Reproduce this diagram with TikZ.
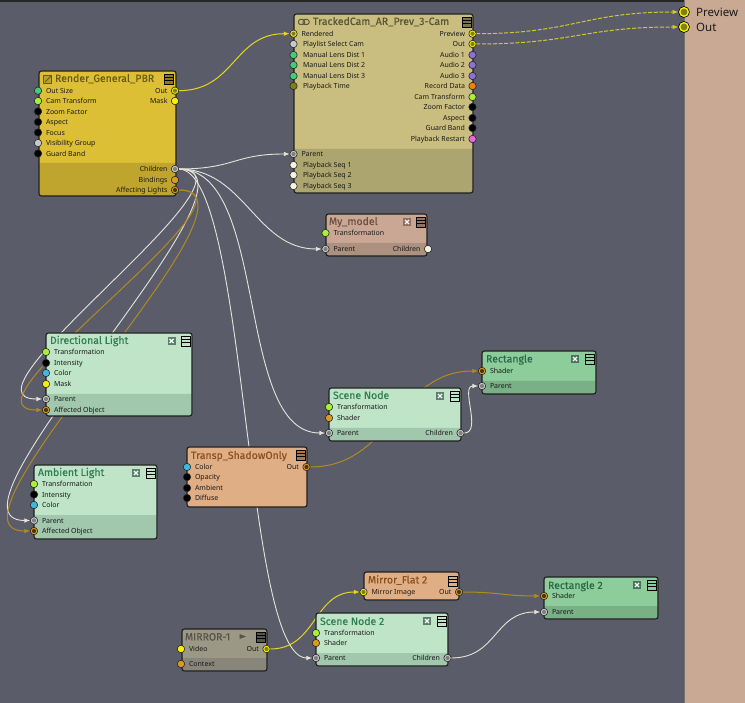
\documentclass[tikz,border=0pt]{standalone}
\usepackage{fontspec}
\setmainfont{Noto Sans}
\newfontfamily\ttlfont[FakeBold=0.35]{Fira Sans}
\usetikzlibrary{arrows.meta}
\pgfdeclarelayer{bg}
\pgfsetlayers{bg,main}
\definecolor{canvas}{HTML}{5B5C69}
\definecolor{panel}{HTML}{C9A993}
\definecolor{wire}{HTML}{E6E4DA}
\definecolor{ywire}{HTML}{E2D61E}
\definecolor{bwire}{HTML}{B08A22}
\definecolor{pgreen}{HTML}{44CC77}
\definecolor{plime}{HTML}{AAF033}
\definecolor{pgrey}{HTML}{C8C8C8}
\definecolor{pyel}{HTML}{F5F000}
\definecolor{pamb}{HTML}{D89A20}
\definecolor{pblue}{HTML}{3FB8E0}
\definecolor{ppur}{HTML}{8A70D8}
\definecolor{porg}{HTML}{F08010}
\definecolor{ppink}{HTML}{E868E0}
\definecolor{pcream}{HTML}{F4F2E0}
\definecolor{polive}{HTML}{7E8010}
\definecolor{rendF}{HTML}{DCBF35}\definecolor{rendB}{HTML}{BFA52E}\definecolor{rendT}{HTML}{6B5A12}
\definecolor{camF}{HTML}{C9BE7F}\definecolor{camB}{HTML}{ACA56F}\definecolor{camT}{HTML}{5A5638}
\definecolor{modF}{HTML}{C9A794}\definecolor{modB}{HTML}{AC9080}\definecolor{modT}{HTML}{6E4F40}
\definecolor{lgtF}{HTML}{BFE4C8}\definecolor{lgtB}{HTML}{A1C7AC}\definecolor{lgtT}{HTML}{2F7F55}
\definecolor{recF}{HTML}{8CCD9B}\definecolor{recB}{HTML}{7AB086}\definecolor{recT}{HTML}{2A6A48}
\definecolor{shdF}{HTML}{DFAE84}\definecolor{shdT}{HTML}{8B4F20}
\definecolor{mirF}{HTML}{9B9886}\definecolor{mirB}{HTML}{88857A}\definecolor{mirT}{HTML}{55534A}
\tikzset{
  x=1pt,y=-1pt,
  boxline/.style={draw=black!88,line width=1.1pt,rounded corners=2.5pt},
  pinlabel/.style={inner sep=0pt,outer sep=0pt,yshift=-.8pt,text=black!90,font=\fontsize{7}{8}\selectfont,text height=5pt,text depth=1.5pt},
  titlelabel/.style={inner sep=0pt,outer sep=0pt,yshift=-1.2pt,anchor=west,font=\ttlfont\fontsize{10.5}{12}\selectfont,text height=7.5pt,text depth=2pt},
  pinball/.style={circle,draw=black!85,line width=.6pt,minimum size=7.4pt,inner sep=0pt,outer sep=0pt},
  whitewire/.style={draw=wire,line width=.9pt,-{Latex[length=6pt,width=4.6pt]}},
  yellowwire/.style={draw=ywire,line width=1pt,-{Latex[length=6pt,width=4.6pt]}},
  brownwire/.style={draw=bwire,line width=1pt,-{Latex[length=6pt,width=4.6pt]}},
  dashwire/.style={draw=ywire!85!gray,line width=1pt,dash pattern=on 4pt off 1.6pt,-{Latex[length=6pt,width=4.6pt]}},
  outball/.style={circle,draw=black,fill=pyel,line width=.6pt,minimum size=11pt,inner sep=0pt,outer sep=0pt,
    path picture={\fill[polive] (path picture bounding box.center) circle (3.4pt);}},
  outlabel/.style={inner sep=0pt,yshift=-1.5pt,anchor=west,text=black!90,font=\fontsize{11.5}{13}\selectfont,text height=8pt,text depth=2pt},
}
\newcommand\lpo{8}
% name x0 y0 x1 y1 bandY palette
\newcommand\nbox[7]{%
  \node[fill=#7F,inner sep=0pt,outer sep=0pt,rounded corners=2.5pt,anchor=north west,minimum width={(#4-#2)*1pt},minimum height={(#5-#3)*1pt}] (#1) at (#2,#3) {};
  \fill[#7B] (#2,#6) -- (#4,#6) [rounded corners=2.5pt] -- (#4,#5) -- (#2,#5) [sharp corners] -- cycle;
  \draw[boxline] (#2,#3) rectangle (#4,#5);
}
\newcommand\nboxplain[6]{%
  \node[fill=#6F,inner sep=0pt,outer sep=0pt,rounded corners=2.5pt,anchor=north west,minimum width={(#4-#2)*1pt},minimum height={(#5-#3)*1pt}] (#1) at (#2,#3) {};
  \draw[boxline] (#2,#3) rectangle (#4,#5);
}
% [inner] name x y colour label
\newcommand\lpin[6][none]{%
  \node[pinball,fill=#5,path picture={\path[fill=#1] (path picture bounding box.center) circle (2.1pt);}] (#2) at (#3,#4) {};
  \node[pinlabel,anchor=west] (#2-t) at (#3+\lpo,#4) {#6};
}
\newcommand\rpin[6][none]{%
  \node[pinball,fill=#5,path picture={\path[fill=#1] (path picture bounding box.center) circle (2.1pt);}] (#2) at (#3,#4) {};
  \node[pinlabel,anchor=east] (#2-t) at (#3-7.5,#4) {#6};
}
\newcommand\menuicon[3]{% x y(top) tint
  \draw[black,line width=.9pt,fill=#3] (#1,#2) rectangle (#1+9,#2+10);
  \draw[black,line width=.9pt] (#1,#2+3.3) -- (#1+9,#2+3.3) (#1,#2+6.6) -- (#1+9,#2+6.6);
}
\newcommand\xicon[3]{% x y(top) colour
  \fill[#3] (#1,#2) rectangle (#1+8,#2+8);
  \draw[white,line width=1.1pt] (#1+2,#2+2) -- (#1+6,#2+6) (#1+6,#2+2) -- (#1+2,#2+6);
}
\newcommand\conn[4]{\draw[#1] (#2) .. controls +(#4,0) and +(-#4,0) .. (#3);}
\begin{document}
\begin{tikzpicture}
\path[use as bounding box] (0,0) rectangle (745,703);
\begin{pgfonlayer}{bg}
\fill[canvas] (0,0) rectangle (745,703);
\fill[black!85] (0,0) rectangle (685,1.6);
\fill[panel] (685,0) rectangle (745,703);
\fill[black!55] (684.2,0) rectangle (685.2,703);
\end{pgfonlayer}

% Render_General_PBR
\nbox{rend}{39}{71}{176}{196}{163}{rend}
\node[titlelabel,text=rendT] (rend-n) at (55,78) {Render\_General\_PBR};
\draw[rendT,line width=.8pt,fill=rendF!70!rendT] (43,75) rectangle (51,83);
\draw[rendT,line width=1pt] (45,82) -- (51,76);
\menuicon{164}{74}{rendT!70!rendF}
\lpin{r-size}{38}{90.7}{pgreen}{Out Size}
\lpin{r-cam}{38}{101}{plime}{Cam Transform}
\lpin{r-zoom}{38}{111.5}{black}{Zoom Factor}
\lpin{r-asp}{38}{122}{black}{Aspect}
\lpin{r-foc}{38}{132.5}{black}{Focus}
\lpin{r-vis}{38}{143}{pgrey}{Visibility Group}
\lpin{r-gb}{38}{153.5}{black}{Guard Band}
\rpin[polive]{r-out}{175}{90.7}{pyel}{Out}
\rpin{r-mask}{175}{101}{pyel}{Mask}
\rpin[gray]{r-child}{175}{169}{pgrey}{Children}
\rpin{r-bind}{175}{180}{pamb}{Bindings}
\rpin[black!65!pamb]{r-aff}{175}{190}{pamb}{Affecting Lights}

% TrackedCam
\nbox{cam}{294}{14}{473}{193}{149}{cam}
\node[titlelabel,text=camT] (cam-n) at (313,21) {TrackedCam\_AR\_Prev\_3-Cam};
\draw[camT,line width=1pt,rounded corners=1.5pt] (298.5,19.5) rectangle (304.5,24.5) (303,19.5) rectangle (309,24.5);
\menuicon{462}{17}{camT!70!camF}
\lpin[polive]{c-rend}{293.5}{33.7}{pyel}{Rendered}
\renewcommand\lpo{9.5}
\lpin{c-play}{293.5}{44}{pgrey}{Playlist Select Cam}
\lpin{c-m1}{293.5}{55}{pgreen}{Manual Lens Dist 1}
\lpin{c-m2}{293.5}{65}{pgreen}{Manual Lens Dist 2}
\lpin{c-m3}{293.5}{76}{pgreen}{Manual Lens Dist 3}
\lpin{c-pt}{293.5}{86}{polive}{Playback Time}
\renewcommand\lpo{8}
\lpin[gray]{c-par}{293.5}{154}{pgrey}{Parent}
\renewcommand\lpo{9.5}
\lpin{c-s1}{293.5}{165}{pcream}{Playback Seq 1}
\lpin{c-s2}{293.5}{175}{pcream}{Playback Seq 2}
\lpin{c-s3}{293.5}{186}{pcream}{Playback Seq 3}
\renewcommand\lpo{8}
\rpin[polive]{c-prev}{472.5}{33.7}{pyel}{Preview}
\rpin[polive]{c-out}{472.5}{44}{pyel}{Out}
\rpin{c-a1}{472.5}{55}{ppur}{Audio 1}
\rpin{c-a2}{472.5}{65}{ppur}{Audio 2}
\rpin{c-a3}{472.5}{76}{ppur}{Audio 3}
\rpin{c-rec}{472.5}{86}{porg}{Record Data}
\rpin{c-ct}{472.5}{97}{plime}{Cam Transform}
\rpin{c-zf}{472.5}{107}{black}{Zoom Factor}
\rpin{c-as}{472.5}{118}{black}{Aspect}
\rpin{c-gb}{472.5}{128}{black}{Guard Band}
\rpin{c-pr}{472.5}{139}{ppink}{Playback Restart}

% My_model
\nbox{mod}{326}{214}{427}{256}{243}{mod}
\node[titlelabel,text=modT] (mod-n) at (329,221) {My\_model};
\xicon{403}{218}{modT!65!modF}
\menuicon{416}{217}{modT!60!modF}
\lpin{m-tr}{325.5}{233}{plime}{Transformation}
\lpin[gray]{m-par}{325.5}{249}{pgrey}{Parent}
\rpin{m-ch}{428}{249}{pcream}{Children}

% Directional Light
\nbox{dir}{46}{333}{192}{416}{394}{lgt}
\node[titlelabel,text=lgtT] (dir-n) at (50,340) {Directional Light};
\xicon{167.5}{337}{lgtT!45!gray}
\menuicon{181.5}{336}{lgtF}
\lpin{d-tr}{46}{352}{plime}{Transformation}
\lpin{d-in}{46}{363}{black}{Intensity}
\lpin{d-co}{46}{373}{pblue}{Color}
\lpin{d-ma}{46}{384}{pyel}{Mask}
\lpin[gray]{d-par}{46}{399}{pgrey}{Parent}
\lpin[black!65!pamb]{d-aff}{46}{410}{pamb}{Affected Object}

% Ambient Light
\nbox{amb}{34}{465}{157}{539}{515}{lgt}
\node[titlelabel,text=lgtT] (amb-n) at (38,472) {Ambient Light};
\xicon{132}{469}{lgtT!45!gray}
\menuicon{146.5}{468}{lgtF}
\lpin{a-tr}{34}{484}{plime}{Transformation}
\lpin{a-in}{34}{494.5}{black}{Intensity}
\lpin{a-co}{34}{505}{pblue}{Color}
\lpin[gray]{a-par}{34}{520.5}{pgrey}{Parent}
\lpin[black!65!pamb]{a-aff}{34}{531}{pamb}{Affected Object}

% Scene Node
\nbox{sn}{329}{388}{461}{441}{428}{lgt}
\node[titlelabel,text=lgtT] (sn-n) at (333,395) {Scene Node};
\xicon{436}{392}{lgtT!45!gray}
\menuicon{450.5}{391}{lgtF}
\lpin{s-tr}{329}{407}{plime}{Transformation}
\lpin{s-sh}{329}{418}{pamb}{Shader}
\lpin[gray]{s-par}{329}{433}{pgrey}{Parent}
\rpin[gray]{s-ch}{460.5}{433}{pgrey}{Children}

% Rectangle
\nbox{rec}{482}{351}{596}{394}{381}{rec}
\node[titlelabel,text=recT] (rec-n) at (486,358.5) {Rectangle};
\xicon{571}{355}{recT!60!gray}
\menuicon{585.5}{354}{recF}
\lpin[black!65!pamb]{q-sh}{482}{371}{pamb}{Shader}
\lpin[gray]{q-par}{482}{386}{pgrey}{Parent}

% Transp_ShadowOnly
\nboxplain{shd}{187}{447}{307}{507}{shd}
\node[titlelabel,text=shdT] (shd-n) at (191,455) {Transp\_ShadowOnly};
\menuicon{296.5}{450}{shdT!60!shdF}
\lpin{t-co}{187}{467}{pblue}{Color}
\lpin{t-op}{187}{477}{black}{Opacity}
\lpin{t-am}{187}{488}{black}{Ambient}
\lpin{t-di}{187}{498}{black}{Diffuse}
\rpin[black!65!pamb]{t-out}{306.5}{467}{pamb}{Out}

% Mirror_Flat 2
\nboxplain{flat}{364}{572}{459}{600}{shd}
\node[titlelabel,text=shdT] (flat-n) at (368,579.5) {Mirror\_Flat 2};
\menuicon{448}{576}{shdF}
\lpin[polive]{f-im}{363.5}{592}{pyel}{Mirror Image}
\rpin[black!65!pamb]{f-out}{459}{592}{pamb}{Out}

% Rectangle 2
\nbox{rct}{544}{577}{658}{619}{606}{rec}
\node[titlelabel,text=recT] (rct-n) at (548,585) {Rectangle 2};
\xicon{633}{581}{recT!60!gray}
\menuicon{647.5}{580}{recF}
\lpin[black!65!pamb]{w-sh}{544}{596}{pamb}{Shader}
\lpin[gray]{w-par}{544}{612}{pgrey}{Parent}

% Scene Node 2
\nbox{sm}{316}{613}{448}{666}{653}{lgt}
\node[titlelabel,text=lgtT] (sm-n) at (320,621) {Scene Node 2};
\xicon{423}{617}{lgtT!45!gray}
\menuicon{437.5}{616}{lgtF}
\lpin{n-tr}{316}{633}{plime}{Transformation}
\lpin{n-sh}{316}{643}{pamb}{Shader}
\lpin[gray]{n-par}{316}{658}{pgrey}{Parent}
\rpin[gray]{n-ch}{447.5}{658}{pgrey}{Children}

% MIRROR-1
\nbox{mir}{182}{629}{267}{671}{658}{mir}
\node[titlelabel,text=mirT] (mir-n) at (185,636.5) {MIRROR-1};
\fill[mirT] (239.5,634) -- (246,636.5) -- (239.5,639) -- cycle;
\menuicon{256}{632}{mirT}
\lpin{i-vi}{181}{649}{pyel}{Video}
\lpin{i-co}{181}{664}{pamb}{Context}
\rpin[polive]{i-out}{266.5}{649}{pyel}{Out}

% Output panel ports
\node[outball] (o-prev) at (684,12) {};
\node[outball] (o-out) at (684,27) {};
\node[outlabel] (o-prev-t) at (696,12) {Preview};
\node[outlabel] (o-out-t) at (696,27) {Out};

\begin{pgfonlayer}{bg}
\conn{yellowwire}{r-out}{c-rend}{60}
\conn{dashwire}{c-prev}{o-prev}{100}
\conn{dashwire}{c-out}{o-out}{100}
\conn{whitewire}{r-child}{c-par}{60}
\conn{whitewire}{r-child}{m-par}{70}
\conn{whitewire}{r-child}{d-par}{98}
\conn{whitewire}{r-child}{a-par}{108}
\conn{whitewire}{r-child}{s-par}{95}
\conn{whitewire}{r-child}{n-par}{73}
\conn{brownwire}{r-aff}{d-aff}{98}
\conn{brownwire}{r-aff}{a-aff}{108}
\conn{brownwire}{t-out}{q-sh}{85}
\conn{whitewire}{s-ch}{q-par}{22}
\conn{yellowwire}{i-out}{f-im}{50}
\conn{brownwire}{f-out}{w-sh}{40}
\conn{whitewire}{n-ch}{w-par}{50}
\end{pgfonlayer}
\end{tikzpicture}
\end{document}
